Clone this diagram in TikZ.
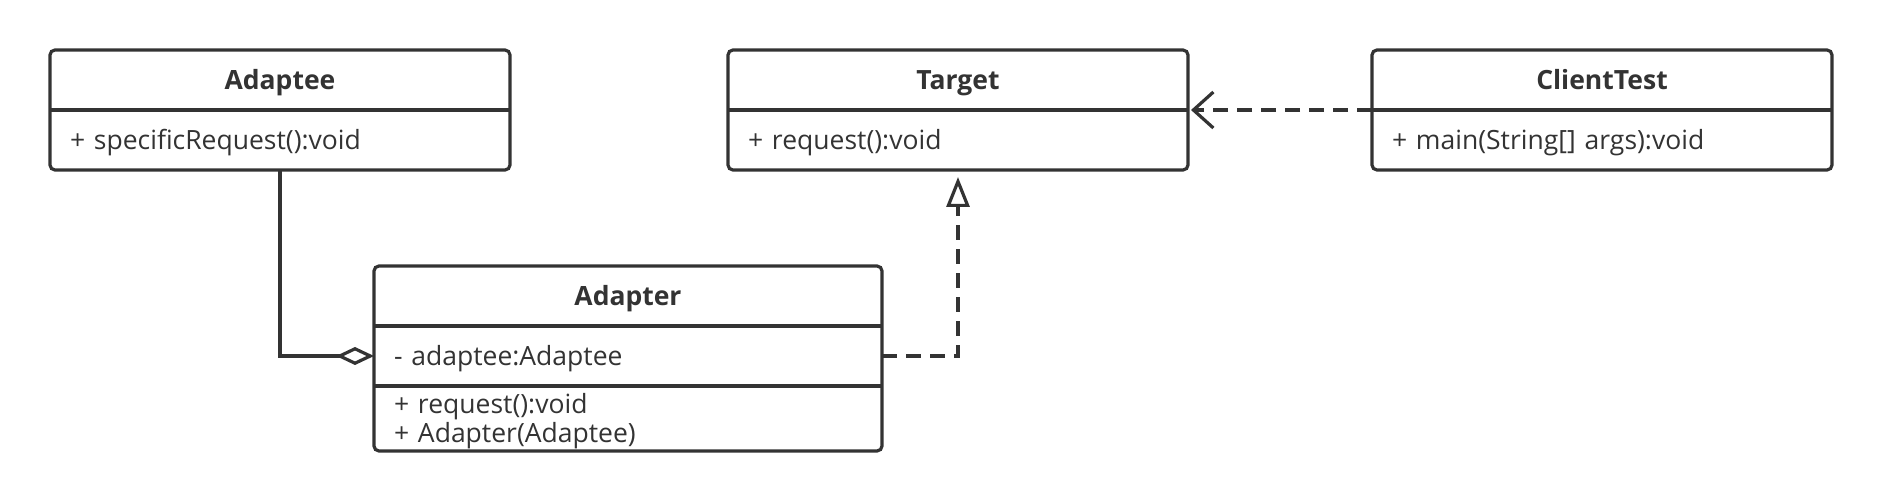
\documentclass[tikz,border=0pt]{standalone}
\usepackage{fontspec}
\setmainfont{Open Sans}
\usetikzlibrary{positioning, arrows.meta}
\definecolor{umlgray}{HTML}{333333}

\begin{document}
\begin{tikzpicture}[
    x=1pt, y=-1pt, line width=3.2pt, color=umlgray,
    every node/.style = {outer sep=0pt},
    head/.style = {minimum height=60pt, inner sep=0pt, text height=19pt, text depth=0pt, font=\fontsize{26.5}{29}\selectfont\bfseries},
    body/.style = {minimum height=60pt, inner xsep=20pt, inner ysep=0pt, text width=#1, text height=19pt, text depth=0pt, align=left, font=\fontsize{26.5}{29}\selectfont},
    frame/.style = {draw, rounded corners=5pt},
    dashline/.style = {dash pattern=on 15pt off 9pt},
    aggr/.style = {-{Diamond[open, length=38pt, width=18pt]}},
    real/.style = {dashline, shorten >=7pt, -{Triangle[open, length=30pt, width=23pt]}},
    dep/.style = {dashline, shorten >=3pt, -{Straight Barb[length=20pt, width=36pt]}}
]
    \useasboundingbox (0,0) rectangle (1882,502);

    % Adaptee
    \node[head, minimum width=460pt] (adapteeH) at (280,80) {Adaptee};
    \node[body=420pt, below=0pt of adapteeH] (adapteeB) {+ specificRequest():void};
    \draw[frame] (adapteeH.north west) rectangle (adapteeB.south east);
    \draw (adapteeH.south west) -- (adapteeH.south east);

    % Target
    \node[head, minimum width=460pt] (targetH) at (958,80) {Target};
    \node[body=420pt, below=0pt of targetH] (targetB) {+ request():void};
    \draw[frame] (targetH.north west) rectangle (targetB.south east);
    \draw (targetH.south west) -- (targetH.south east);

    % ClientTest
    \node[head, minimum width=460pt] (clientH) at (1602,80) {ClientTest};
    \node[body=420pt, below=0pt of clientH] (clientB) {+ main(String[] args):void};
    \draw[frame] (clientH.north west) rectangle (clientB.south east);
    \draw (clientH.south west) -- (clientH.south east);

    % Adapter
    \node[head, minimum width=508pt] (adapterH) at (628,296) {Adapter};
    \node[body=468pt, below=0pt of adapterH] (adapterA) {- adaptee:Adaptee};
    \node[body=468pt, minimum height=65pt, text depth=29pt, below=0pt of adapterA] (adapterO) {+ request():void\\+ Adapter(Adaptee)};
    \draw[frame] (adapterH.north west) rectangle (adapterO.south east);
    \draw (adapterH.south west) -- (adapterH.south east);
    \draw (adapterA.south west) -- (adapterA.south east);

    % relations
    \draw[aggr] (adapteeB.south) |- (adapterA.west);
    \draw[real] (adapterA.east) -| (targetB.south);
    \draw[dep] (clientH.south west) -- (targetH.south east);
\end{tikzpicture}
\end{document}
